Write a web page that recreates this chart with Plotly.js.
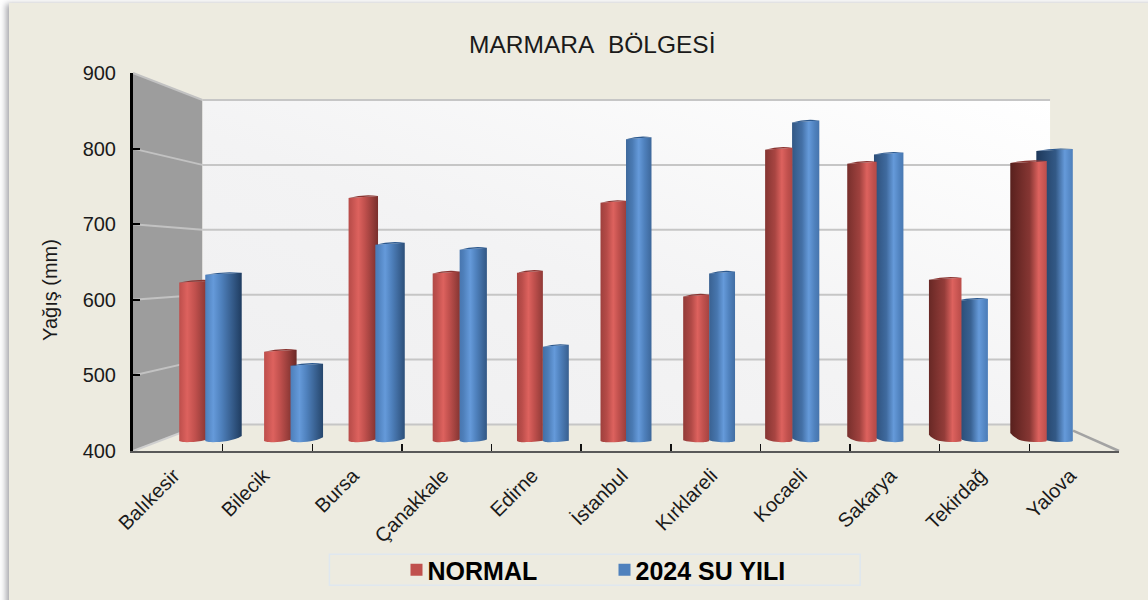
<!DOCTYPE html>
<html><head><meta charset="utf-8">
<script src="https://cdn.plot.ly/plotly-3.0.1.min.js"></script>
<style>
html,body{margin:0;padding:0;background:#fff;overflow:hidden;width:1148px;height:600px}
#frame{position:absolute;left:9px;top:3px;width:1160px;height:620px;background:#edebe0;box-shadow:-3px 1px 6px rgba(80,80,90,.5)}
#chart{position:absolute;left:0;top:0;width:1148px;height:600px}
</style></head><body>
<div id="frame"></div><div id="chart"></div>
<script>
const categories = ["Balıkesir","Bilecik","Bursa","Çanakkale","Edirne","İstanbul","Kırklareli","Kocaeli","Sakarya","Tekirdağ","Yalova"];
const normalValues = [626,527,747,639,640,740,606,816,796,630,797];
const suYiliValues = [637,507,680,673,534,831,639,855,809,600,814];
const yTicks = [400,500,600,700,800,900];

// plot geometry (pixels)
const L=132.5,R=1119,T=73,B=451.5,W=R-L,H=B-T;
const WX0=202,WX1=1050,WY0=425,WYS=0.65;
const BASEY=439,BARS=0.7,BC0=210,BCS=83.15;
const px=x=>(x-L)/W, py=y=>(B-y)/H;
const P=(x,y)=>px(x).toFixed(5)+' '+py(y).toFixed(5);
const frontY=v=>B-(v-400)*H/500, backY=v=>WY0-(v-400)*WYS;
const poly=(pts,fill)=>({type:'path',xref:'paper',yref:'paper',layer:'below',path:'M'+pts.map(p=>P(p[0],p[1])).join(' L')+' Z',fillcolor:fill,line:{width:0}});
const seg=(a,b,c,w)=>({type:'path',xref:'paper',yref:'paper',layer:'below',path:'M'+P(a[0],a[1])+' L'+P(b[0],b[1]),line:{color:c,width:w}});

const shapes=[
 poly([[L,T],[WX0,WY0-500*WYS],[WX0,WY0],[L,B]],'#9d9d9d'),
 poly([[WX0,WY0-500*WYS],[WX1,WY0-500*WYS],[WX1,WY0],[WX0,WY0]],'#f4f4f5'),
 seg([L,B],[WX0,WY0],'#cfcfcf',2),
 seg([1073,431],[R,B],'#a3a3a3',2.5)
];
yTicks.forEach(v=>{
 if(v>400) shapes.push(seg([L,frontY(v)],[WX0,backY(v)],'#c2c2c2',2));
 shapes.push(seg([WX0,backY(v)],[WX1,backY(v)],'#c6c6c6',2));
});
shapes.push({type:'rect',xref:'paper',yref:'paper',layer:'below',x0:px(329),x1:px(860),y0:py(586),y1:py(555),line:{color:'#dfe7ef',width:1.5},fillcolor:'rgba(0,0,0,0)'});

const dist=i=>(i-5)/5;
const wPx=i=>25.5+11*dist(i)*dist(i);
const oPx=i=>Math.max(0,(wPx(i)-27)*1.1);
const widths=categories.map((c,i)=>wPx(i)/BCS);
const redOff=categories.map((c,i)=>(oPx(i)/2-wPx(i))/BCS);
const bluOff=categories.map((c,i)=>-oPx(i)/2/BCS);

const data=[
 {type:'scatter',mode:'markers',x:categories,y:categories.map(()=>null),xaxis:'x',yaxis:'y',showlegend:false,hoverinfo:'skip'},
 {type:'bar',name:'NORMAL',x:categories,y:normalValues.map(v=>v-400),base:400,width:widths,offset:redOff,xaxis:'x2',yaxis:'y2',marker:{color:'#c0504d',line:{width:0}},cliponaxis:false},
 {type:'bar',name:'2024 SU YILI',x:categories,y:suYiliValues.map(v=>v-400),base:400,width:widths,offset:bluOff,xaxis:'x2',yaxis:'y2',marker:{color:'#4f81bd',line:{width:0}},cliponaxis:false}
];
const font={family:'"Liberation Sans",Arial,sans-serif',color:'#1a1a1a'};
const layout={
 width:1148,height:600,paper_bgcolor:'rgba(0,0,0,0)',plot_bgcolor:'rgba(0,0,0,0)',font,
 margin:{l:L,r:1148-R,t:T,b:600-B,pad:0},barmode:'overlay',
 title:{text:'MARMARA\u00a0 BÖLGESİ',xref:'paper',x:px(592),xanchor:'center',yref:'container',y:1-44/600,yanchor:'middle',font:{size:24.5,color:'#1a1a1a'}},
 xaxis:{type:'category',categoryorder:'array',categoryarray:categories,range:[-0.5,10.5],showgrid:false,zeroline:false,showline:true,linecolor:'#595959',linewidth:2,ticks:'inside',tickson:'boundaries',ticklen:7,tickcolor:'#111',tickwidth:1.5,tickangle:-45,tickfont:{size:20,color:'#1a1a1a'},ticklabelstandoff:6},
 yaxis:{range:[400,900],tickvals:yTicks,showgrid:false,zeroline:false,showline:true,linecolor:'#000',linewidth:3,ticks:'inside',ticklen:7,tickcolor:'#000',tickwidth:2,tickfont:{size:20,color:'#1a1a1a'},ticklabelstandoff:10,title:{text:'Yağış (mm)',font:{size:20,color:'#1a1a1a'},standoff:20}},
 xaxis2:{type:'category',categoryorder:'array',categoryarray:categories,overlaying:'x',anchor:'y2',range:[-(BC0-L)/BCS,(R-BC0)/BCS],visible:false},
 yaxis2:{overlaying:'y',anchor:'x2',range:[400-(B-BASEY)/BARS,400+(BASEY-T)/BARS],visible:false},
 legend:{orientation:'h',xref:'container',yref:'container',x:396.5/1148,xanchor:'left',y:1-570/600,yanchor:'middle',entrywidth:163,entrywidthmode:'pixels',traceorder:'normal',bgcolor:'rgba(0,0,0,0)',font:{size:25,color:'#000',weight:'bold'},itemclick:false,itemdoubleclick:false},
 shapes,showlegend:true,hovermode:false
};

// colour helpers for the cylinder shading
const hex=c=>[1,3,5].map(k=>parseInt(c.substr(k,2),16));
const mix=(a,b,t)=>{const A=hex(a),B=hex(b);return 'rgb('+A.map((v,k)=>Math.round(v+(B[k]-v)*t)).join(',')+')';};
const NS='http://www.w3.org/2000/svg';
function addGrad(defs,id,attrs,stops){
 const g=document.createElementNS(NS,'linearGradient');g.setAttribute('id',id);
 Object.entries(attrs).forEach(([k,v])=>g.setAttribute(k,v));
 stops.forEach(([o,c])=>{const s=document.createElementNS(NS,'stop');s.setAttribute('offset',o);s.setAttribute('stop-color',c);g.appendChild(s);});
 defs.appendChild(g);
}
const palette=[{base:'#c0504d',hi:'#dd625e',dark:'#4c1b18',cap:'#8a3532'},{base:'#4f81bd',hi:'#659ada',dark:'#17304f',cap:'#2c598f'}];

function decorate(gd){
 const svg=gd.querySelector('svg.main-svg');
 const defs=document.createElementNS(NS,'defs');svg.insertBefore(defs,svg.firstChild);
 addGrad(defs,'wallGrad',{x1:'0',y1:'1',x2:'1',y2:'0'},[[0,'#efeff0'],[0.45,'#f3f3f4'],[1,'#ffffff']]);
 const wall=gd.querySelectorAll('.layer-below .shapelayer path')[1];
 if(wall) wall.style.fill='url(#wallGrad)';
 const traces=gd.querySelectorAll('.barlayer .trace');
 const topPts=traces[1].querySelector('.points');
 const moved=[];
 [0,1].forEach(t=>{
  const pal=palette[t];
  const pts=[...traces[t].querySelectorAll('.point')];
  pts.forEach((pt,i)=>{
   const path=pt.querySelector('path');
   const bb=path.getBBox(),x0=bb.x,x1=bb.x+bb.width,yT=bb.y,yB=bb.y+bb.height;
   const d=dist(i),u=(d+1)/2,w=x1-x0;
   const id='g'+t+'_'+i,h=0.22+0.56*u;
   addGrad(defs,id,{x1:'0',y1:'0',x2:'1',y2:'0'},[
    [0,mix(pal.base,pal.dark,0.9*Math.pow(u,1.6))],
    [Math.max(0.02,h-0.25),mix(pal.base,pal.dark,0.5*Math.pow(u,2.5))],
    [h,pal.hi],
    [Math.min(0.98,h+0.22),pal.base],
    [1,mix(pal.base,pal.dark,0.85*Math.pow(1-u,1.4))]]);
   const tl=yT+2,tr=yT,mid=(x0+x1)/2,a=Math.abs(d);
   // rounded foot: flat on the near side, rising on the far side
   const low=yB+3.5;
   const yl=d>0?low-9*a:low-1, yr=d<0?low-6*a:low-1;
   const foot=`L${x1},${yr}C${x1-w*(d>0?0.05:0.25)},${low+(d<0?0:0.5)} ${x0+w*(d>0?0.55:0.25)},${low+0.5} ${x0+w*(d>0?0.3:0.1)},${low-(d>0?1.5*a:0)}Q${x0+w*(d>0?0.1:0.03)},${low-(d>0?4*a:0.5)} ${x0},${yl}`;
   path.setAttribute('d',`M${x0},${tl}L${x1},${tr}${foot}Z`);
   path.style.fill='url(#'+id+')';
   const cap=document.createElementNS(NS,'path');
   cap.setAttribute('d',`M${x0},${tl}Q${mid},${yT-2} ${x1},${tr}Z`);
   cap.style.fill=pal.cap;cap.style.stroke='none';
   pt.appendChild(cap);
   if(t===0 && d>0) moved.push(pt);
  });
 });
 moved.forEach(pt=>topPts.appendChild(pt)); // near cylinder on the right half
 gd.querySelectorAll('.legend .legendtext').forEach(el=>el.setAttribute('x',31));
 const yt=gd.querySelector('.ytitle');
 if(yt) yt.setAttribute('transform','translate(0,28) '+(yt.getAttribute('transform')||''));
 gd.querySelectorAll('.xtick text').forEach(el=>el.setAttribute('transform','translate(-4,-3) '+(el.getAttribute('transform')||'')));
}
const gd=document.getElementById('chart');
Plotly.newPlot(gd,data,layout,{displayModeBar:false,staticPlot:true}).then(()=>decorate(gd));
</script></body></html>
